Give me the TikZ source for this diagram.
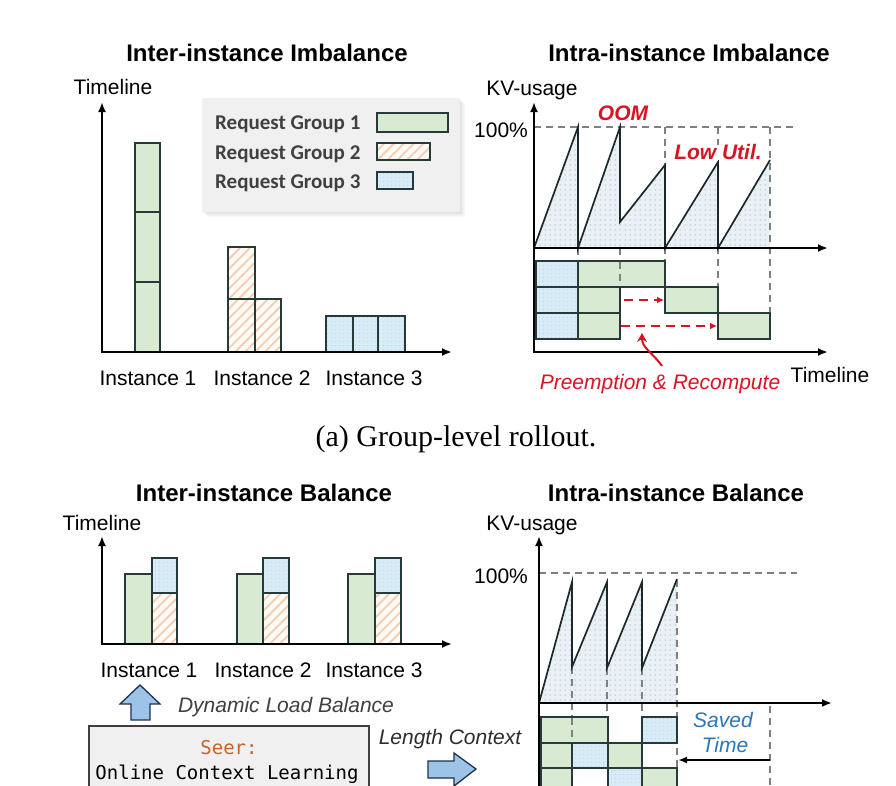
\documentclass[tikz,border=0pt]{standalone}
\usepackage{fontspec}
\setmainfont{Liberation Sans}
\newfontfamily\calib{Carlito}
\newfontfamily\tnr{Liberation Serif}
\newfontfamily\monof{DejaVu Sans Mono}
\usetikzlibrary{arrows.meta,patterns.meta}
\definecolor{greenf}{RGB}{217,234,211}
\definecolor{edgec}{RGB}{38,58,58}
\definecolor{bluef}{RGB}{216,236,248}
\definecolor{bluedot}{RGB}{150,180,205}
\definecolor{hatbg}{RGB}{255,251,247}
\definecolor{hatchc}{RGB}{248,204,176}
\definecolor{sawf}{RGB}{234,241,246}
\definecolor{sawdot}{RGB}{120,130,140}
\definecolor{dgray}{RGB}{128,128,128}
\definecolor{redc}{RGB}{215,20,35}
\definecolor{seeror}{RGB}{200,100,40}
\definecolor{savedb}{RGB}{46,117,182}
\definecolor{arrf}{RGB}{157,195,230}
\definecolor{arrd}{RGB}{30,50,80}
\definecolor{lgbg}{RGB}{240,240,240}
\definecolor{txtg}{RGB}{64,64,64}
\begin{document}
\begin{tikzpicture}[x=1pt,y=-1pt,
  axisboth/.style={line width=2.6pt,line join=miter,{Latex[length=10pt,width=8pt]}-{Latex[length=10pt,width=8pt]}},
  axisone/.style={line width=2.6pt,-{Latex[length=10pt,width=8pt]}},
  blk/.style={draw=edgec,line width=1.3pt},
  grn/.style={blk,fill=greenf},
  blu/.style={blk,preaction={fill=bluef},pattern={Dots[distance=4pt,radius=0.45pt]},pattern color=bluedot},
  hat/.style={blk,preaction={fill=hatbg},pattern={Lines[angle=45,distance=7pt,line width=1.8pt]},pattern color=hatchc},
  saw/.style={preaction={fill=sawf},pattern={Dots[distance=5pt,radius=0.5pt]},pattern color=sawdot},
  gdash/.style={draw=dgray,line width=1.6pt,dash pattern=on 7pt off 5pt},
  rdash/.style={draw=redc,line width=2.6pt,dash pattern=on 9pt off 6pt,-{Latex[length=7pt,width=7pt]}},
  t21/.style={font=\fontsize{21}{25}\selectfont,inner sep=0pt,text height=15pt,text depth=0pt},
  t24/.style={font=\fontsize{24}{28}\selectfont\bfseries,inner sep=0pt,text height=17.5pt,text depth=0pt},
  lg/.style={font=\fontsize{21}{25}\selectfont\calib\bfseries,text=txtg,inner sep=0pt,text height=13.5pt,text depth=0pt,anchor=west},
  blockarrow/.style={fill=arrf,draw=arrd,line width=1.3pt,line join=miter}
]
\useasboundingbox (0,0) rectangle (896,785);
\fill[white] (0,0) rectangle (896,785);

% ================= TOP LEFT =================
\node[t24] (ttlA) at (267,53) {Inter-instance Imbalance};
\node[t21] (tlA) at (113,87) {Timeline};
% legend with soft shadow
\foreach \s in {5,4,3,2,1}{
  \fill[black,opacity=0.025] (202+\s,98+\s) rectangle (460+\s,212+\s);
}
\fill[lgbg] (202,98) rectangle (460,212);
\node[lg] (lg1) at (215,123) {Request Group 1};
\node[lg] (lg2) at (215,153) {Request Group 2};
\node[lg] (lg3) at (215,182) {Request Group 3};
\draw[grn] (377,113) rectangle (448,132);
\draw[hat] (377,143) rectangle (430,160);
\draw[blu] (377,172) rectangle (413,189);
% bars
\draw[grn] (135,143) rectangle (160,212);
\draw[grn] (135,212) rectangle (160,282);
\draw[grn] (135,282) rectangle (160,352);
\draw[hat] (228,247) rectangle (255,299);
\draw[hat] (228,299) rectangle (255,352);
\draw[hat] (255,299) rectangle (281,352);
\draw[blu] (326,316) rectangle (353,352);
\draw[blu] (353,316) rectangle (378,352);
\draw[blu] (378,316) rectangle (405,352);
\coordinate (yA) at (102,102);
\coordinate (oA) at (102,352);
\coordinate (xA) at (452,352);
\draw[axisboth] (yA) -- (oA) -- (xA);
\node[t21] (i1A) at (148,378) {Instance 1};
\node[t21] (i2A) at (262,378) {Instance 2};
\node[t21] (i3A) at (374,378) {Instance 3};

% ================= TOP RIGHT =================
\node[t24] (ttlB) at (689,53) {Intra-instance Imbalance};
\node[t21] (kvB) at (532,88) {KV-usage};
\node[t21] (pB) at (501,130) {100\%};
\fill[saw] (534,248) -- (578,127) -- (578,248) -- (620,127) -- (620,222) -- (665,165) -- (665,248)
  -- (718,162) -- (718,248) -- (770,160) -- (770,248) -- cycle;
\draw[gdash] (534,127) -- (793,127);
\draw[gdash] (665,127) -- (665,262);
\draw[gdash] (718,127) -- (718,288);
\draw[gdash] (770,127) -- (770,314);
\draw[gdash] (620,248) -- (620,288);
\draw[gdash] (578,248) -- (578,262);
\draw[line width=1.7pt,line join=miter,edgec!70!black] (534,248) -- (578,127) -- (578,248) -- (620,127) -- (620,222)
  -- (665,165) -- (665,248) -- (718,162) -- (718,248) -- (770,160);
% blocks
\draw[blu] (536,261) rectangle (578,287);
\draw[blu] (536,287) rectangle (578,313);
\draw[blu] (536,313) rectangle (578,339);
\draw[grn] (578,261) rectangle (665,287);
\draw[gdash] (620,262) -- (620,287);
\draw[grn] (578,287) rectangle (620,313);
\draw[grn] (578,313) rectangle (620,339);
\draw[grn] (665,287) rectangle (718,313);
\draw[grn] (718,313) rectangle (770,339);
\coordinate (pa1) at (624,300);
\coordinate (pa2) at (664,300);
\coordinate (pb1) at (621,326);
\coordinate (pb2) at (717,326);
\draw[rdash] (pa1) -- (pa2);
\draw[rdash] (pb1) -- (pb2);
\coordinate (yB) at (534,102);
\coordinate (oB) at (534,352);
\coordinate (xB) at (828,352);
\coordinate (mB) at (534,248);
\coordinate (mxB) at (828,248);
\draw[axisboth] (yB) -- (oB) -- (xB);
\draw[axisone] (mB) -- (mxB);
\node[font=\fontsize{21}{25}\selectfont\bfseries\itshape,text=redc,inner sep=0pt,text height=15pt,text depth=0pt] (oom) at (623,113) {OOM};
\node[font=\fontsize{21}{25}\selectfont\bfseries\itshape,text=redc,inner sep=0pt,text height=15pt,text depth=0pt,fill=white,inner xsep=1pt] (low) at (718,152) {Low Util.};
\node[t21,font=\fontsize{21}{25}\selectfont\itshape,text=redc] (pre) at (660,382) {Preemption \& Recompute};
\node[t21] (tlB) at (830,375) {Timeline};
\coordinate (cstart) at (662,366);
\coordinate (cend) at (642,333);
\draw[redc,line width=2pt,-{Stealth[length=9pt,width=10pt,inset=3pt]}] (cstart) .. controls (652,352) and (642,348) .. (cend);

% caption
\node[font=\fontsize{30}{34}\selectfont\tnr,inner sep=0pt,text height=20pt,text depth=0pt] (cap) at (456,436) {(a) Group-level rollout.};

% ================= BOTTOM LEFT =================
\node[t24] (ttlC) at (264,493) {Inter-instance Balance};
\node[t21] (tlC) at (102,523) {Timeline};
\draw[grn] (125,574) rectangle (152,644);
\draw[blu] (152,558) rectangle (177,593);
\draw[hat] (152,593) rectangle (177,644);
\draw[grn] (237,574) rectangle (263,644);
\draw[blu] (263,558) rectangle (289,593);
\draw[hat] (263,593) rectangle (289,644);
\draw[grn] (348,574) rectangle (375,644);
\draw[blu] (375,558) rectangle (401,593);
\draw[hat] (375,593) rectangle (401,644);
\coordinate (yC) at (102,536);
\coordinate (oC) at (102,644);
\coordinate (xC) at (452,644);
\draw[axisboth] (yC) -- (oC) -- (xC);
\node[t21] (i1C) at (149,670) {Instance 1};
\node[t21] (i2C) at (263,670) {Instance 2};
\node[t21] (i3C) at (374,670) {Instance 3};
\draw[blockarrow] (140,685) -- (160,704) -- (150,704) -- (150,720) -- (131,720) -- (131,704) -- (120,704) -- cycle;
\node[t21,font=\fontsize{21}{25}\selectfont\itshape,text=txtg] (dlb) at (286,705) {Dynamic Load Balance};
\draw[fill=lgbg,draw=txtg,line width=1.3pt] (89,726) rectangle (369,800);
\node[font=\fontsize{19}{22}\selectfont\monof,text=seeror,inner sep=0pt,text height=14pt,text depth=0pt] (seer) at (229,747) {Seer:};
\node[font=\fontsize{19}{22}\selectfont\monof,inner sep=0pt,text height=14pt,text depth=0pt] (ocl) at (227,772) {Online Context Learning};
\node[t21,font=\fontsize{21}{25}\selectfont\itshape,text=txtg!70!black] (lc) at (450,737) {Length Context};
\draw[blockarrow] (428,761) -- (454,761) -- (454,753) -- (476,769) -- (454,786) -- (454,778) -- (428,778) -- cycle;

% ================= BOTTOM RIGHT =================
\node[t24] (ttlD) at (676,493) {Intra-instance Balance};
\node[t21] (kvD) at (532,523) {KV-usage};
\node[t21] (pD) at (501,576) {100\%};
\fill[saw] (539,703) -- (572,582) -- (572,667) -- (607,582) -- (607,668) -- (642,582) -- (642,668) -- (677,579) -- (677,703) -- cycle;
\draw[gdash] (539,573) -- (797,573);
\draw[gdash] (572,667) -- (572,743);
\draw[gdash] (607,668) -- (607,717);
\draw[gdash] (642,668) -- (642,717);
\draw[gdash] (677,580) -- (677,790);
\draw[gdash] (770,706) -- (770,790);
\draw[line width=1.7pt,line join=miter,edgec!70!black] (539,703) -- (572,582) -- (572,667) -- (607,582) -- (607,668) -- (642,582) -- (642,668) -- (677,579);
% blocks
\draw[grn] (541,717) rectangle (608,743);
\draw[gdash] (572,718) -- (572,742);
\draw[blu] (642,717) rectangle (677,743);
\draw[grn] (541,743) rectangle (572,768);
\draw[blu] (572,743) rectangle (608,768);
\draw[grn] (608,743) rectangle (642,768);
\draw[grn] (541,768) rectangle (572,794);
\draw[blu] (608,768) rectangle (642,794);
\draw[grn] (642,768) rectangle (677,794);
\draw[blk] (572,768) rectangle (608,794);
\coordinate (yD) at (539,536);
\coordinate (bD) at (539,800);
\coordinate (oD) at (539,703);
\coordinate (xD) at (832,703);
\draw[axisone] (bD) -- (yD);
\draw[axisone] (oD) -- (xD);
\coordinate (st1) at (770,760);
\coordinate (st2) at (678,760);
\draw[line width=1.8pt,-{Latex[length=9pt,width=7pt]}] (st1) -- (st2);
\node[t21,font=\fontsize{21}{25}\selectfont\itshape,text=savedb] (sv1) at (723,720) {Saved};
\node[t21,font=\fontsize{21}{25}\selectfont\itshape,text=savedb] (sv2) at (725,745) {Time};
\end{tikzpicture}
\end{document}
